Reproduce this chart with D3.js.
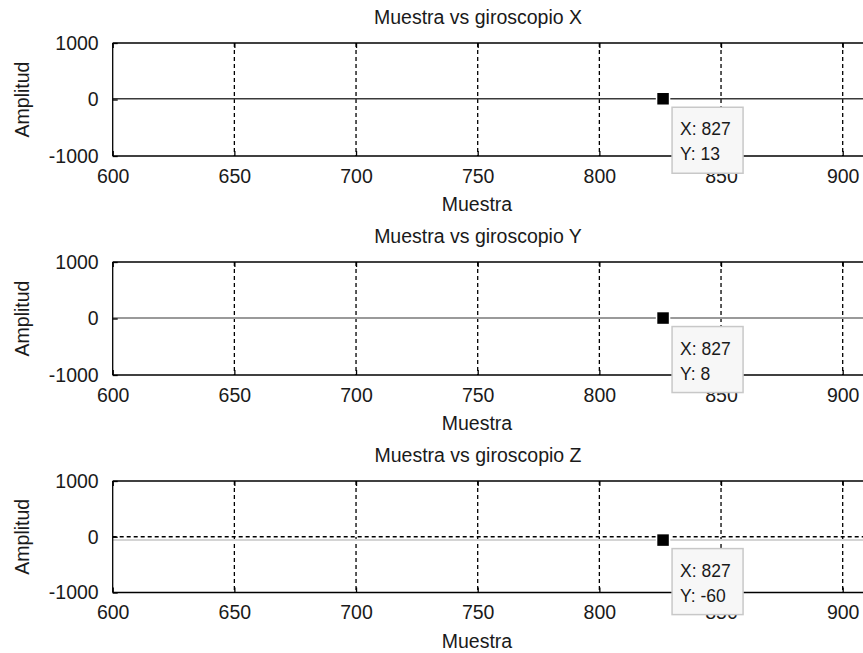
<!DOCTYPE html>
<html><head><meta charset="utf-8">
<script src="https://cdn.jsdelivr.net/npm/d3@7"></script>
<style>
body{margin:0;background:#fff;}
svg text{font-family:"Liberation Sans",Arial,Helvetica,sans-serif;fill:#1a1a1a;}
</style></head>
<body><svg id="chart" width="863" height="653"></svg>
<script>
// ---- data ----
const titles = ["Muestra vs giroscopio X", "Muestra vs giroscopio Y", "Muestra vs giroscopio Z"];
const samples = [600, 650, 700, 750, 800, 827, 850, 900, 950, 1000];
const gyroX = [13, 13, 13, 13, 13, 13, 13, 13, 13, 13];
const gyroY = [8, 8, 8, 8, 8, 8, 8, 8, 8, 8];
const gyroZ = [-60, -60, -60, -60, -60, -60, -60, -60, -60, -60];
const tipSample = 827;
const tipValues = [13, 8, -60];
const xTicks = [600, 650, 700, 750, 800, 850, 900];
const yTicks = [-1000, 0, 1000];
const xLabel = "Muestra";
const yLabel = "Amplitud";

const series = [gyroX, gyroY, gyroZ];
const lineColors = ["#3a3a3a", "#9a9a9a", "#d4d4d4"];
const lineWidths = [1.6, 2, 2];

const svg = d3.select("#chart");
const left = 112.7, pxPer = 2.4333;
const x = d3.scaleLinear().domain([600, 1000]).range([left, left + 400 * pxPer]);
const tops = [43, 262, 481];
const heights = [113, 113, 111.5];
const fs = 19.5;
const fmt = d => String(d);

tops.forEach((top, i) => {
  const h = heights[i];
  const bottom = top + h;
  const y = d3.scaleLinear().domain([-1000, 1000]).range([bottom, top]);
  const g = svg.append("g");

  // vertical dashed grid
  g.append("g").selectAll("line").data(xTicks.slice(1)).join("line")
    .attr("x1", d => x(d)).attr("x2", d => x(d))
    .attr("y1", top).attr("y2", bottom)
    .attr("stroke", "#000").attr("stroke-width", 1.3)
    .attr("stroke-dasharray", "4,3");

  // data line
  const line = d3.line().x((d, k) => x(samples[k])).y(d => y(d));
  g.append("path").datum(series[i]).attr("d", line)
    .attr("fill", "none").attr("stroke", lineColors[i]).attr("stroke-width", lineWidths[i]);

  // horizontal dashed grid at 0 for third panel (drawn on top)
  if (i === 2) {
    g.append("line").attr("x1", left).attr("x2", 863)
      .attr("y1", y(0)).attr("y2", y(0))
      .attr("stroke", "#000").attr("stroke-width", 1.3)
      .attr("stroke-dasharray", "4,3");
  }

  // axes frame lines
  g.append("line").attr("x1", left).attr("x2", 863).attr("y1", top).attr("y2", top)
    .attr("stroke", "#000").attr("stroke-width", 1.3);
  g.append("line").attr("x1", left).attr("x2", 863).attr("y1", bottom).attr("y2", bottom)
    .attr("stroke", "#000").attr("stroke-width", 1.3);
  g.append("line").attr("x1", left).attr("x2", left).attr("y1", top).attr("y2", bottom)
    .attr("stroke", "#000").attr("stroke-width", 1.3);

  // x axis (bottom) with inward ticks
  const xa = g.append("g").attr("transform", `translate(0,${bottom})`)
    .call(d3.axisBottom(x).tickValues(xTicks).tickSize(-5).tickPadding(9).tickFormat(fmt));
  xa.select(".domain").remove();
  xa.selectAll("line").attr("stroke", "#000").attr("stroke-width", 1.3);
  xa.selectAll("text").attr("font-size", fs).attr("fill", "#1a1a1a").attr("dy", "0.9em")
    .attr("font-family", '"Liberation Sans",Arial,sans-serif');

  // top ticks
  const xt = g.append("g").attr("transform", `translate(0,${top})`)
    .call(d3.axisTop(x).tickValues(xTicks).tickSize(-5).tickFormat(""));
  xt.select(".domain").remove();
  xt.selectAll("line").attr("stroke", "#000").attr("stroke-width", 1.3);

  // y axis
  const ya = g.append("g").attr("transform", `translate(${left},0)`)
    .call(d3.axisLeft(y).tickValues(yTicks).tickSize(-5).tickPadding(14).tickFormat(fmt));
  ya.select(".domain").remove();
  ya.selectAll("line").attr("stroke", "#000").attr("stroke-width", 1.3);
  ya.selectAll("text").attr("font-size", fs).attr("fill", "#1a1a1a")
    .attr("font-family", '"Liberation Sans",Arial,sans-serif');

  // title
  g.append("text").attr("x", 478).attr("y", top - 19).attr("text-anchor", "middle")
    .attr("font-size", fs).text(titles[i]);
  // x label
  g.append("text").attr("x", 477).attr("y", bottom + 55).attr("text-anchor", "middle")
    .attr("font-size", fs).text(xLabel);
  // y label
  g.append("text").attr("transform", `translate(29,${(top + bottom) / 2}) rotate(-90)`)
    .attr("text-anchor", "middle").attr("font-size", fs).text(yLabel);

  // data tip
  const mx = x(tipSample), my = y(tipValues[i]);
  g.append("rect").attr("x", mx - 8.5).attr("y", my - 6.5).attr("width", 13).attr("height", 13)
    .attr("fill", "#000").attr("stroke", "#fff").attr("stroke-width", 1.5);
  const bx = mx + 7, by = my + 8.5;
  g.append("rect").attr("x", bx).attr("y", by).attr("width", 71).attr("height", 66)
    .attr("fill", "#f7f7f7").attr("stroke", "#c8c8c8").attr("stroke-width", 1.5);
  g.append("text").attr("x", bx + 8).attr("y", by + 28).attr("font-size", 17.5)
    .text("X: " + tipSample);
  g.append("text").attr("x", bx + 8).attr("y", by + 53).attr("font-size", 17.5)
    .text("Y: " + tipValues[i]);
});
</script>
</body></html>
